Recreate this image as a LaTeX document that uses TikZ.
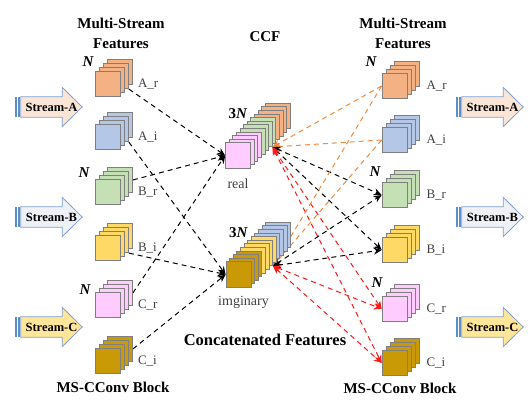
\documentclass[tikz,border=0pt]{standalone}
\usepackage{fontspec}
\setmainfont{Liberation Serif}
\usetikzlibrary{shapes,arrows.meta,positioning,calc,backgrounds}

\definecolor{fOrange}{HTML}{F4B183}
\definecolor{fBlue}{HTML}{B4C7E7}
\definecolor{fGreen}{HTML}{C5E0B4}
\definecolor{fYellow}{HTML}{FFD966}
\definecolor{fPink}{HTML}{FFCCFF}
\definecolor{fGold}{HTML}{C99A06}
\definecolor{sqEdge}{HTML}{7F7F7F}
\definecolor{tagText}{HTML}{404040}
\definecolor{lnOrange}{HTML}{F08A3E}
\definecolor{lnRed}{HTML}{FF1A1A}
\definecolor{sPeach}{HTML}{FBE5D6}
\definecolor{sGrey}{HTML}{EEF1F6}
\definecolor{sYellow}{HTML}{FFE699}
\definecolor{sEdge}{HTML}{7F9FCF}
\definecolor{sStripe}{HTML}{5B8FC9}

% stack of feature maps: name, x, y, layers behind, colour
\newcommand\featstack[5]{%
  \foreach \k in {#4,...,1}
    \node[sq, fill=#5] (#1\k) at ($(#2,#3)+(4*\k,-4*\k)$) {};
  \node[sq, fill=#5] (#1) at (#2,#3) {};
}
% concatenated stack: name, x, y, back / middle / front colour
\newcommand\ccfstack[6]{%
  \foreach \k/\c in {11/#4,10/#4,9/#4,8/#4,7/#5,6/#5,5/#5,4/#5,3/#6,2/#6,1/#6}
    \node[sq, fill=\c] (#1\k) at ($(#2,#3)+(3.6*\k,-3.6*\k)$) {};
  \node[sq, fill=#6] (#1) at (#2,#3) {};
}
% striped block arrow: name, x, y, fill, text
\newcommand\streamarrow[5]{%
  \node[streamtxt] (#1) at (#2,#3) {#5};
  \begin{scope}[on background layer]
    \draw[streamedge, fill=#4] (#1.south west) -- (#1.north west)
      -- ([xshift=-20pt]#1.north east) -- ([xshift=-20pt,yshift=9.5pt]#1.north east)
      -- (#1.east) -- ([xshift=-20pt,yshift=-9.5pt]#1.south east)
      -- ([xshift=-20pt]#1.south east) -- cycle;
    \fill[stripe] ([xshift=-6pt]#1.south west) rectangle ([xshift=-4.3pt]#1.north west);
    \fill[stripe] ([xshift=-2.7pt]#1.south west) rectangle ([xshift=-1pt]#1.north west);
  \end{scope}
}

\begin{document}
\begin{tikzpicture}[x=1pt, y=-1pt,
    sq/.style={draw=sqEdge, line width=0.7pt, minimum width=25pt, minimum height=25.5pt, inner sep=0pt},
    title/.style={font=\bfseries\fontsize{15}{20}\selectfont, align=center},
    tag/.style={font=\fontsize{13}{15}\selectfont, text=tagText, inner sep=0pt},
    bign/.style={font=\bfseries\fontsize{15}{18}\selectfont, inner sep=0pt},
    streamtxt/.style={font=\bfseries\fontsize{12.5}{14}\selectfont, minimum width=61pt, minimum height=20pt, inner sep=0pt},
    streamedge/.style={draw=sEdge, line width=0.8pt},
    stripe/.style={fill=sStripe},
    link/.style={dash pattern=on 5pt off 4pt, line width=1pt},
    >={Stealth[length=8pt,width=7pt]}
]
\useasboundingbox (0,0) rectangle (528,412);

% titles
\node[title] (ltitle) at (121,33) {Multi-Stream\\Features};
\node[title] (ccf) at (265,37) {CCF};
\node[title] (rtitle) at (403,33) {Multi-Stream\\Features};
\node[title, font=\bfseries\fontsize{16.5}{20}\selectfont] (cat) at (265,340) {Concatenated Features};
\node[title] (lblock) at (113,387) {MS-CConv Block};
\node[title] (rblock) at (400,388) {MS-CConv Block};

% streams in and out
\streamarrow{inA}{51.5}{107}{sPeach}{Stream-A}
\streamarrow{inB}{51.5}{217}{sGrey}{Stream-B}
\streamarrow{inC}{51.5}{327}{sYellow}{Stream-C}
\streamarrow{outA}{492.5}{107}{sPeach}{Stream-A}
\streamarrow{outB}{492.5}{217}{sGrey}{Stream-B}
\streamarrow{outC}{492.5}{327}{sYellow}{Stream-C}

% left features
\featstack{LAr}{108}{84}{3}{fOrange}
\featstack{LAi}{108}{137}{3}{fBlue}
\featstack{LBr}{108}{192}{3}{fGreen}
\featstack{LBi}{108}{248}{3}{fYellow}
\featstack{LCr}{108}{305}{3}{fPink}
\featstack{LCi}{108}{361}{3}{fGold}
\node[tag, right=17pt of LAr] (tLAr) {A\_r};
\node[tag, right=17pt of LAi] (tLAi) {A\_i};
\node[tag, right=17pt of LBr] (tLBr) {B\_r};
\node[tag, right=17pt of LBi] (tLBi) {B\_i};
\node[tag, right=17pt of LCr] (tLCr) {C\_r};
\node[tag, right=17pt of LCi] (tLCi) {C\_i};
\node[bign] (nLA) at (88,62) {\itshape N};
\node[bign] (nLB) at (84,173) {\itshape N};
\node[bign] (nLC) at (85,290) {\itshape N};

% CCF
\ccfstack{real}{238}{155.5}{fOrange}{fGreen}{fPink}
\ccfstack{imag}{238.5}{274.5}{fBlue}{fYellow}{fGold}
\node[bign, above=24pt of real] (nreal) {3\textit{N}};
\node[bign, above=24pt of imag] (nimag) {3\textit{N}};
\node[tag, font=\fontsize{14}{16}\selectfont, below=10pt of real] (treal) {real};
\node[tag, font=\fontsize{14}{16}\selectfont, below=8pt of imag, xshift=5pt] (timag) {imginary};

% right features
\featstack{RAr}{394.5}{86}{3}{fOrange}
\featstack{RAi}{394.5}{140}{3}{fBlue}
\featstack{RBr}{394.5}{195}{3}{fGreen}
\featstack{RBi}{394.5}{250}{3}{fYellow}
\featstack{RCr}{394.5}{309}{3}{fPink}
\featstack{RCi}{394.5}{363}{3}{fGold}
\node[tag, right=19pt of RAr] (tRAr) {A\_r};
\node[tag, right=19pt of RAi] (tRAi) {A\_i};
\node[tag, right=19pt of RBr] (tRBr) {B\_r};
\node[tag, right=19pt of RBi] (tRBi) {B\_i};
\node[tag, right=19pt of RCr] (tRCr) {C\_r};
\node[tag, right=19pt of RCi] (tRCi) {C\_i};
\node[bign] (nRA) at (371,62) {\itshape N};
\node[bign] (nRB) at (375,172) {\itshape N};
\node[bign] (nRC) at (377,283) {\itshape N};

% connections
\begin{scope}[on background layer]
  \draw[link, ->] (LAr2.south east) -- (real.west);
  \draw[link, ->] (LAi2.south east) -- (imag.west);
  \draw[link, ->] (LBr3.east) -- (real.west);
  \draw[link, ->] (LBi2.south east) -- (imag.west);
  \draw[link, ->] (LCr3.east) -- (real.west);
  \draw[link, ->] (LCi3.east) -- (imag.west);
  \foreach \s in {real,imag} {
    \draw[link, lnOrange, ->] (RAr.west) -- (\s6.south east);
    \draw[link, lnOrange, ->] (RAi.west) -- (\s6.south east);
    \draw[link, <->] (\s6.south east) -- (RBr.west);
    \draw[link, <->] (\s6.south east) -- (RBi.west);
    \draw[link, lnRed, <->] (\s6.south east) -- (RCr.west);
    \draw[link, lnRed, <->] (\s6.south east) -- (RCi.west);
  }
\end{scope}

\end{tikzpicture}
\end{document}
